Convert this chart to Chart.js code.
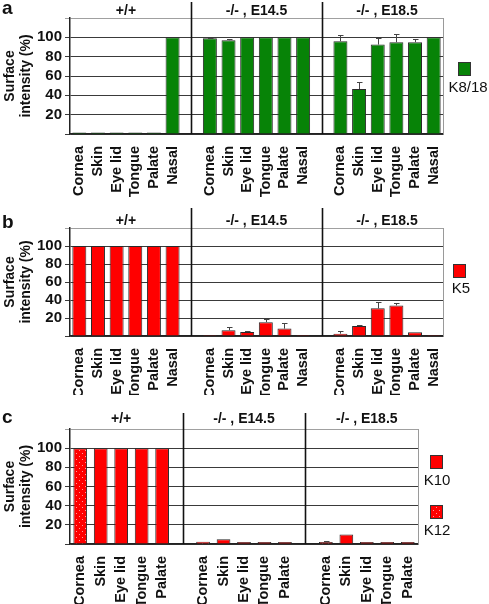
<!DOCTYPE html>
<html>
<head>
<meta charset="utf-8">
<script src="https://cdn.jsdelivr.net/npm/chart.js@4.4.1/dist/chart.umd.min.js"></script>
<style>
  body { margin: 0; background: #fff; width: 489px; height: 604px; position: relative; overflow: hidden; }
  canvas { position: absolute; left: 0; }
</style>
</head>
<body>
<canvas id="pa" width="489" height="198" style="top:0px"></canvas>
<canvas id="pb" width="489" height="197" style="top:198px"></canvas>
<canvas id="pc" width="489" height="209" style="top:395px"></canvas>
<script>
// groups and tissues
const groups = ['+/+', '-/- , E14.5', '-/- , E18.5'];
const tissuesAB = ['Cornea', 'Skin', 'Eye lid', 'Tongue', 'Palate', 'Nasal'];
const tissuesC = ['Cornea', 'Skin', 'Eye lid', 'Tongue', 'Palate'];
const yTicks = [20, 40, 60, 80, 100];

// panel a - K8/18 (one row per group)
const k818 = [[1.5, 1.5, 1.5, 1.5, 1.5, 100], [99, 97, 100, 100, 100, 100], [96, 46.5, 92.5, 95, 95, 100]];
const k818Err = [[0, 0, 0, 0, 0, 0], [0.5, 1, 0, 0, 0, 0], [6, 7, 7, 8, 3, 0]];

// panel b - K5
const k5 = [[100, 100, 100, 100, 100, 100], [1, 6.4, 4.5, 15.4, 8.2, 1], [2.6, 11.2, 30.7, 34, 4.1, 1]];
const k5Err = [[0, 0, 0, 0, 0, 0], [0, 3.5, 1.5, 3.3, 5.7, 0], [2.6, 0.8, 6.8, 2.3, 0, 0]];

// panel c - K10 (cornea stained for K12)
const k10 = [[100, 100, 100, 100, 100], [2.4, 4.9, 2, 2, 2], [2, 9.8, 2, 2, 2]];
const k10Err = [[0, 0, 0, 0, 0], [0, 0, 0, 0, 0], [1.5, 0, 0, 0, 0]];

Chart.defaults.font.family = '"Liberation Sans", Arial, sans-serif';
Chart.defaults.color = '#111';

const GREEN = '#078307';
const RED = '#ff0000';

function dotPattern() {
  const c = document.createElement('canvas');
  c.width = 6; c.height = 6;
  const g = c.getContext('2d');
  g.fillStyle = RED; g.fillRect(0, 0, 6, 6);
  g.fillStyle = '#ff9c9c';
  g.fillRect(1, 1, 1, 1);
  g.fillRect(4, 4, 1, 1);
  return g.createPattern(c, 'repeat');
}
const K12 = dotPattern();

// join groups with an empty slot between them
function flat(rows, gap) {
  const out = [];
  rows.forEach((r, i) => { if (i) out.push(gap); out.push(...r); });
  return out;
}

// frame, whiskers, dividers, headers, letter and legend
function makeDecor(o) {
  return {
    id: 'decor',
    afterDraw(chart) {
      const { ctx, chartArea: a, scales: { x, y } } = chart;
      const vals = chart.data.datasets[0].data;
      ctx.save();

      ctx.strokeStyle = '#9a9a9a'; ctx.lineWidth = 1;
      ctx.beginPath(); ctx.moveTo(a.right + 0.5, a.top); ctx.lineTo(a.right + 0.5, a.bottom); ctx.stroke();

      ctx.strokeStyle = '#444'; ctx.lineWidth = 1;
      o.err.forEach((e, i) => {
        if (!e) return;
        const px = Math.round(x.getPixelForValue(i)) + 0.5;
        const y0 = y.getPixelForValue(vals[i]);
        const y1 = Math.round(y.getPixelForValue(vals[i] + e)) + 0.5;
        ctx.beginPath();
        ctx.moveTo(px, y0); ctx.lineTo(px, y1);
        ctx.moveTo(px - 2.5, y1); ctx.lineTo(px + 3, y1);
        ctx.stroke();
      });

      ctx.strokeStyle = '#111'; ctx.lineWidth = 1.6;
      o.gaps.forEach(i => {
        const px = Math.round(x.getPixelForValue(i)) + 0.5;
        ctx.beginPath(); ctx.moveTo(px, o.divTop); ctx.lineTo(px, a.bottom); ctx.stroke();
      });

      ctx.fillStyle = '#111';
      ctx.textAlign = 'center'; ctx.textBaseline = 'middle';
      ctx.font = 'bold 14px "Liberation Sans", Arial, sans-serif';
      o.ranges.forEach((r, k) => {
        const cx = (x.getPixelForValue(r[0]) + x.getPixelForValue(r[1])) / 2;
        ctx.fillText(groups[k], cx, o.headY);
      });

      ctx.textAlign = 'left'; ctx.textBaseline = 'alphabetic';
      ctx.font = 'bold 19px "Liberation Sans", Arial, sans-serif';
      ctx.fillText(o.letter, 2, o.letterY);

      ctx.font = '15px "Liberation Sans", Arial, sans-serif';
      ctx.textAlign = 'center'; ctx.textBaseline = 'middle';
      o.keys.forEach(l => {
        ctx.fillStyle = l.fill;
        ctx.fillRect(l.bx, l.by, 13, 14);
        ctx.strokeStyle = '#333'; ctx.lineWidth = 1;
        ctx.strokeRect(l.bx + 0.5, l.by + 0.5, 12, 13);
        ctx.fillStyle = '#111';
        ctx.fillText(l.text, l.tx, l.ty);
      });
      ctx.restore();
    }
  };
}

function panel(id, rows, errRows, tissues, colorFor, p) {
  const labels = flat(rows.map(() => tissues), '');
  const data = flat(rows, null);
  const n = tissues.length;
  const deco = makeDecor({
    err: flat(errRows, 0),
    gaps: [n, 2 * n + 1],
    ranges: [[0, n - 1], [n + 1, 2 * n], [2 * n + 2, 3 * n + 1]],
    divTop: p.divTop, headY: p.headY, letter: p.letter, letterY: p.letterY, keys: p.keys
  });
  return new Chart(document.getElementById(id), {
    type: 'bar',
    data: {
      labels: labels,
      datasets: [{
        data: data,
        backgroundColor: labels.map(t => colorFor(t)),
        borderColor: '#2a2a2a',
        borderWidth: 1,
        barPercentage: p.bar,
        categoryPercentage: 1
      }]
    },
    options: {
      responsive: false,
      animation: false,
      events: [],
      layout: { padding: { top: p.top, right: p.right, left: 0, bottom: 0 } },
      plugins: { legend: { display: false }, tooltip: { enabled: false } },
      scales: {
        x: {
          grid: { display: false },
          border: { color: '#222', width: 1.5 },
          ticks: { autoSkip: false, maxRotation: 90, minRotation: 90, padding: 4, font: { size: 14.5, weight: 'bold' }, color: '#111' },
          afterFit: s => { s.height = p.xh; }
        },
        y: {
          min: 0, max: 120,
          afterBuildTicks: s => { s.ticks = [0].concat(yTicks, [120]).map(v => ({ value: v })); },
          ticks: {
            padding: 3, color: '#111', autoSkip: false,
            font: { size: 15, weight: 'bold' },
            callback: v => yTicks.includes(v) ? String(v) : ''
          },
          grid: { color: c => c.tick && c.tick.value === 120 ? '#a0a0a0' : '#3a3a3a', tickLength: 5 },
          border: { color: '#222', width: 1.5 },
          title: { display: true, text: ['Surface', 'intensity (%)'], font: { size: 14, weight: 'bold', lineHeight: 1.15 }, color: '#111', padding: { top: 2 } },
          afterFit: s => { s.width = 70; }
        }
      }
    },
    plugins: [deco]
  });
}

panel('pa', k818, k818Err, tissuesAB, () => GREEN, {
  top: 18, right: 46, xh: 64, bar: 0.75, divTop: 2, headY: 11, letter: 'a', letterY: 14,
  keys: [{ fill: GREEN, bx: 458, by: 62, text: 'K8/18', tx: 468, ty: 88 }]
});
panel('pb', k5, k5Err, tissuesAB, () => RED, {
  top: 30, right: 46, xh: 59, bar: 0.75, divTop: 10, headY: 23, letter: 'b', letterY: 30,
  keys: [{ fill: RED, bx: 453, by: 66, text: 'K5', tx: 461, ty: 91 }]
});
panel('pc', k10, k10Err, tissuesC, t => t === 'Cornea' ? K12 : RED, {
  top: 34, right: 71, xh: 60, bar: 0.67, divTop: 18, headY: 24, letter: 'c', letterY: 28,
  keys: [
    { fill: RED, bx: 430, by: 60, text: 'K10', tx: 437, ty: 86 },
    { fill: K12, bx: 430, by: 110, text: 'K12', tx: 437, ty: 136 }
  ]
});
</script>
</body>
</html>
